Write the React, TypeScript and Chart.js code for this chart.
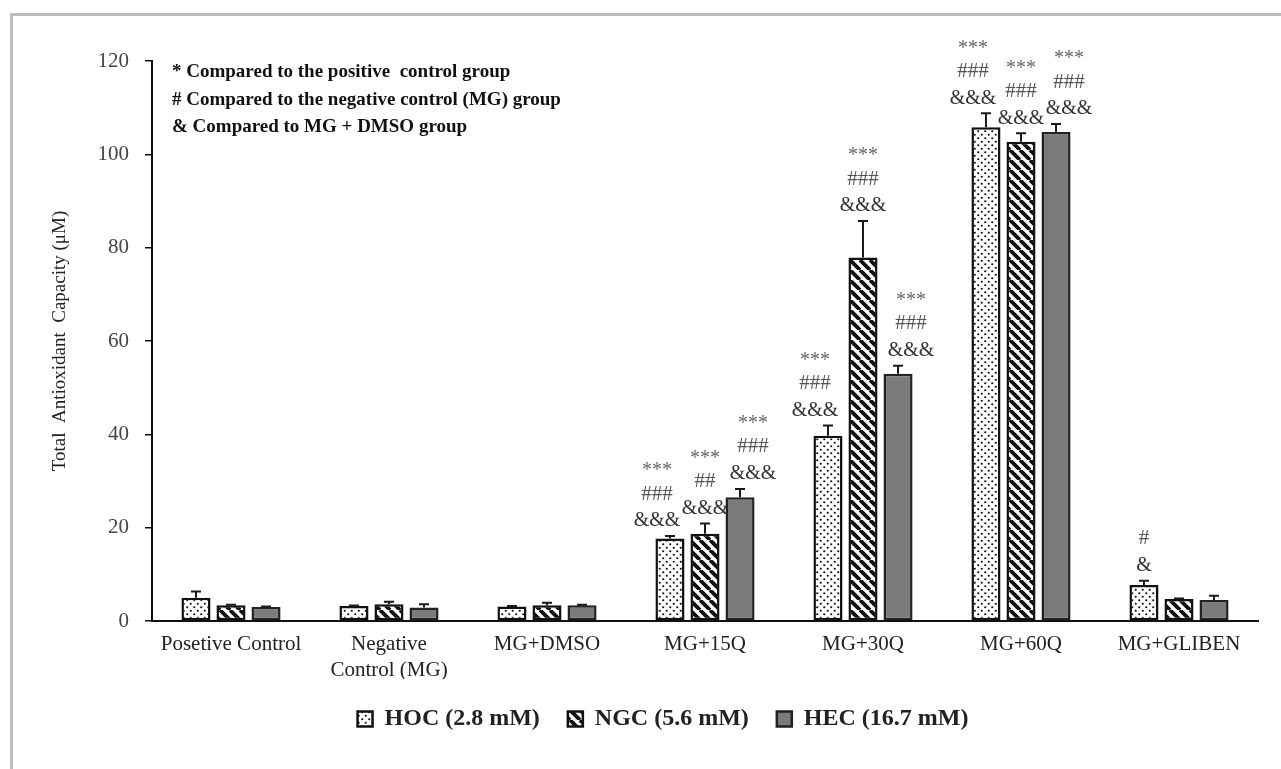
import React, { useEffect, useRef } from "react";
import { Chart, registerables } from "chart.js";

Chart.register(...registerables);

// ---------- data ----------
const categories: (string | string[])[] = [
  "Posetive Control",
  ["Negative", "Control (MG)"],
  "MG+DMSO",
  "MG+15Q",
  "MG+30Q",
  "MG+60Q",
  "MG+GLIBEN",
];
const seriesNames = ["HOC (2.8 mM)", "NGC (5.6 mM)", "HEC (16.7 mM)"];

const hocValues = [5.0, 3.2, 3.1, 17.7, 39.7, 105.8, 7.7];
const hocErrors = [1.3, 0.1, 0.1, 0.5, 2.2, 3.0, 0.9];
const ngcValues = [3.4, 3.6, 3.4, 18.7, 77.9, 102.7, 4.7];
const ngcErrors = [0.1, 0.5, 0.5, 2.2, 7.8, 1.8, 0.1];
const hecValues = [3.0, 2.9, 3.4, 26.5, 53.0, 104.8, 4.5];
const hecErrors = [0.1, 0.7, 0.1, 1.8, 1.7, 1.7, 0.9];

const hocMarks: string[][] = [[], [], [], ["***", "###", "&&&"], ["***", "###", "&&&"], ["***", "###", "&&&"], ["#", "&"]];
const ngcMarks: string[][] = [[], [], [], ["***", "##", "&&&"], ["***", "###", "&&&"], ["***", "###", "&&&"], []];
const hecMarks: string[][] = [[], [], [], ["***", "###", "&&&"], ["***", "###", "&&&"], ["***", "###", "&&&"], []];

const noteLines = [
  "* Compared to the positive  control group",
  "# Compared to the negative control (MG) group",
  "& Compared to MG + DMSO group",
];

const yTicks = [0, 20, 40, 60, 80, 100, 120];
const yTitle = "Total  Antioxidant  Capacity (\u03bcM)";

const allValues = [hocValues, ngcValues, hecValues];
const allErrors = [hocErrors, ngcErrors, hecErrors];
const allMarks = [hocMarks, ngcMarks, hecMarks];

const SERIF = "'Liberation Serif', 'Times New Roman', serif";

function makeDots(): CanvasPattern | string {
  const c = document.createElement("canvas");
  c.width = 7;
  c.height = 7;
  const g = c.getContext("2d");
  if (!g) return "#fff";
  g.fillStyle = "#fff";
  g.fillRect(0, 0, 7, 7);
  g.fillStyle = "#111";
  g.beginPath();
  g.arc(1.75, 1.75, 1.1, 0, Math.PI * 2);
  g.arc(5.25, 5.25, 1.1, 0, Math.PI * 2);
  g.fill();
  return g.createPattern(c, "repeat") || "#fff";
}

function makeStripes(): CanvasPattern | string {
  const p = 10;
  const c = document.createElement("canvas");
  c.width = p;
  c.height = p;
  const g = c.getContext("2d");
  if (!g) return "#fff";
  g.fillStyle = "#fff";
  g.fillRect(0, 0, p, p);
  g.strokeStyle = "#111";
  g.lineWidth = 3.8;
  g.beginPath();
  for (const k of [-1, 0, 1]) {
    g.moveTo(k * p, 0);
    g.lineTo(k * p + p, p);
  }
  g.stroke();
  return g.createPattern(c, "repeat") || "#fff";
}

const markStyle = (s: string) => {
  if (s.startsWith("*")) return { font: `20px ${SERIF}`, color: "#666" };
  if (s.startsWith("#")) return { font: `21px ${SERIF}`, color: "#555" };
  return { font: `20px ${SERIF}`, color: "#333" };
};

const shifts = [-13, 0, 13];

const overlayPlugin = {
  id: "overlay",
  afterDatasetsDraw(chart: any) {
    const ctx = chart.ctx as CanvasRenderingContext2D;
    const y = chart.scales.y;
    ctx.save();
    chart.data.datasets.forEach((_ds: any, di: number) => {
      const meta = chart.getDatasetMeta(di);
      meta.data.forEach((el: any, i: number) => {
        const v = allValues[di][i];
        const e = allErrors[di][i];
        const top = y.getPixelForValue(v + e);
        ctx.strokeStyle = "#1a1a1a";
        ctx.lineWidth = 2;
        ctx.beginPath();
        ctx.moveTo(el.x, el.y);
        ctx.lineTo(el.x, top);
        ctx.moveTo(el.x - 5, top);
        ctx.lineTo(el.x + 5, top);
        ctx.stroke();
      });
    });
    ctx.restore();
  },
  afterDraw(chart: any) {
    const ctx = chart.ctx as CanvasRenderingContext2D;
    const y = chart.scales.y;
    const area = chart.chartArea;
    ctx.save();
    ctx.textAlign = "center";
    ctx.textBaseline = "middle";
    chart.data.datasets.forEach((_ds: any, di: number) => {
      const meta = chart.getDatasetMeta(di);
      meta.data.forEach((el: any, i: number) => {
        const lines = allMarks[di][i];
        if (!lines.length) return;
        const top = y.getPixelForValue(allValues[di][i] + allErrors[di][i]);
        const sx = lines.length === 3 ? shifts[di] : 0;
        lines.forEach((s, k) => {
          const cy = top - 15 - (lines.length - 1 - k) * 27;
          const st = markStyle(s);
          ctx.font = st.font;
          ctx.fillStyle = st.color;
          ctx.fillText(s, el.x + sx, cy + (s.startsWith("*") ? 4 : 0));
        });
      });
    });
    // y axis title
    ctx.save();
    ctx.translate(60, (area.top + area.bottom) / 2);
    ctx.rotate(-Math.PI / 2);
    ctx.font = `19px ${SERIF}`;
    ctx.fillStyle = "#222";
    ctx.fillText(yTitle, 0, 0);
    ctx.restore();
    // notes
    ctx.textAlign = "left";
    ctx.font = `bold 19px ${SERIF}`;
    ctx.fillStyle = "#111";
    const ny = [72, 100, 127];
    noteLines.forEach((t, k) => ctx.fillText(t, 172, ny[k]));
    ctx.restore();
  },
};

export default function App() {
  const ref = useRef<HTMLCanvasElement | null>(null);

  useEffect(() => {
    if (!ref.current) return;
    const fills = [makeDots(), makeStripes(), "#7b7b7b"];
    const borders = ["#111", "#111", "#222"];
    const chart = new Chart(ref.current, {
      type: "bar",
      data: {
        labels: categories as any,
        datasets: seriesNames.map((name, di) => ({
          label: name,
          data: allValues[di],
          backgroundColor: fills[di] as any,
          borderColor: borders[di],
          borderWidth: 2.5,
          borderSkipped: false,
          categoryPercentage: 0.665,
          barPercentage: 0.83,
        })),
      },
      options: {
        responsive: false,
        animation: false,
        layout: { padding: { top: 61, right: 23, left: 68, bottom: 28 } },
        plugins: {
          tooltip: { enabled: false },
          legend: {
            position: "bottom",
            labels: {
              boxWidth: 15,
              boxHeight: 15,
              padding: 28,
              color: "#222",
              font: { family: SERIF, size: 24, weight: "bold" },
            },
          },
        },
        scales: {
          x: {
            grid: { display: false, drawTicks: false },
            border: { color: "#111", width: 2 },
            ticks: {
              color: "#222",
              padding: 10,
              maxRotation: 0,
              autoSkip: false,
              font: { family: SERIF, size: 21, lineHeight: 1.25 },
            },
            afterFit: (s: any) => {
              s.height = 58;
            },
          },
          y: {
            min: 0,
            max: 120,
            afterBuildTicks: (s: any) => {
              s.ticks = yTicks.map((v) => ({ value: v }));
            },
            ticks: {
              color: "#444",
              padding: 16,
              font: { family: SERIF, size: 21 },
            },
            grid: { drawOnChartArea: false, drawTicks: true, tickLength: 7, color: "#111", lineWidth: 1.5 },
            border: { color: "#111", width: 2 },
            afterFit: (s: any) => {
              s.width = 84;
            },
          },
        },
      },
      plugins: [overlayPlugin],
    });
    return () => chart.destroy();
  }, []);

  return (
    <div style={{ position: "fixed", inset: 0, overflow: "hidden", background: "#fff" }}>
      <div
        style={{
          position: "absolute",
          left: 10,
          top: 13,
          width: 1300,
          height: 800,
          border: "3px solid #bdbdbd",
          boxSizing: "border-box",
        }}
      />
      <canvas
        ref={ref}
        width={1281}
        height={769}
        style={{ position: "absolute", left: 0, top: 0, display: "block" }}
      />
    </div>
  );
}
